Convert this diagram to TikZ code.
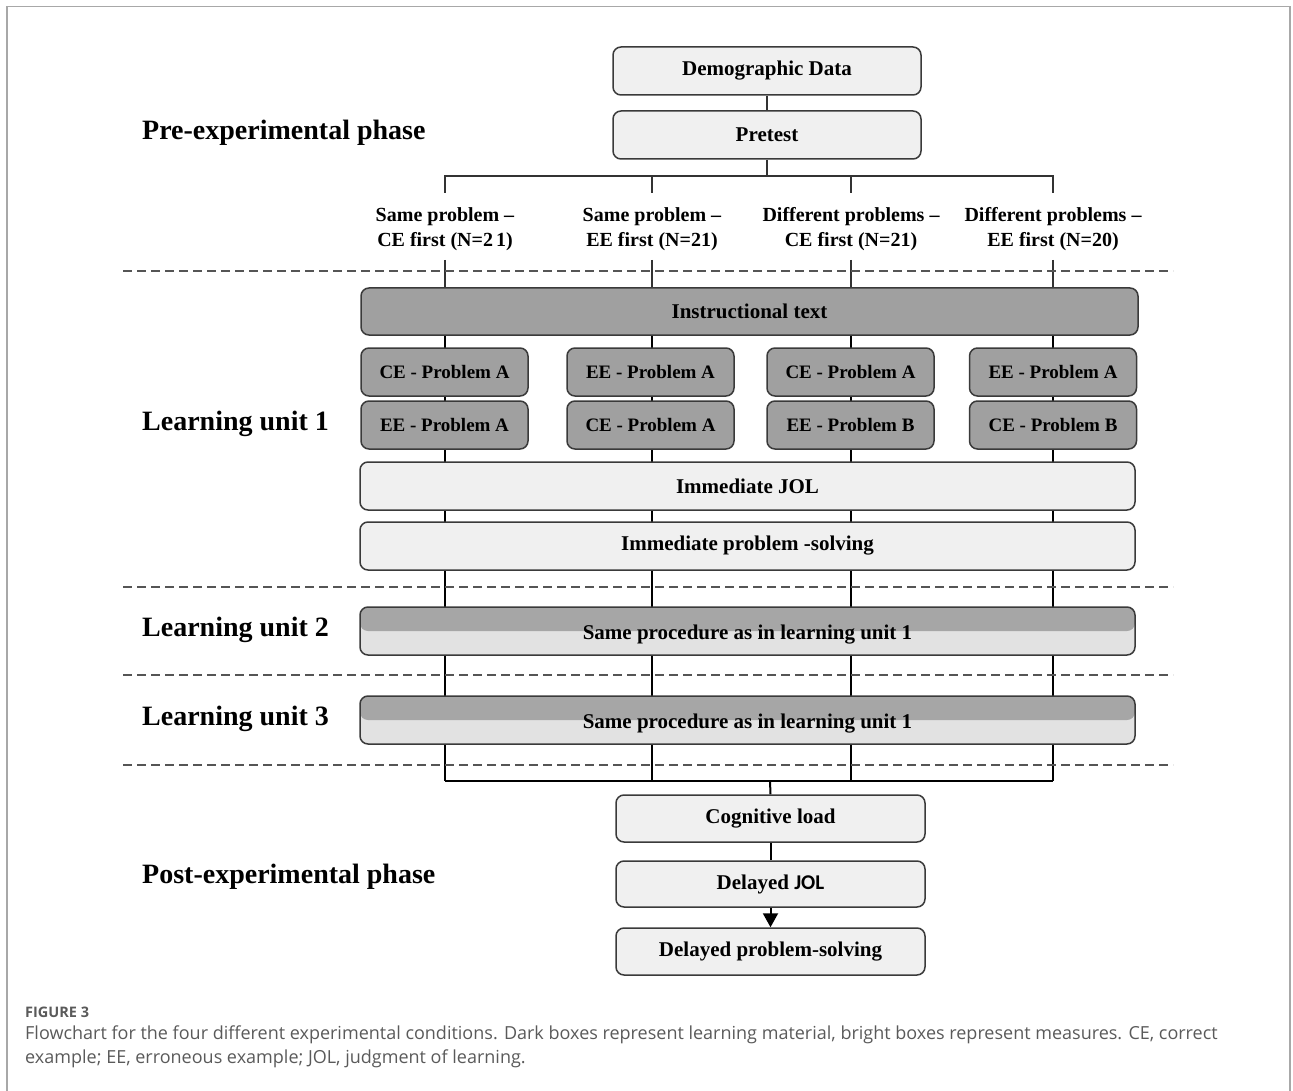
\documentclass[tikz,border=0pt]{standalone}
\usepackage{fontspec}
\setmainfont{Liberation Serif}
\newfontfamily\capfont{Open Sans}
\newfontfamily\jolfont{Carlito}
\usetikzlibrary{arrows.meta,backgrounds}
\definecolor{boxline}{HTML}{3A3A3A}
\definecolor{darkfill}{HTML}{A0A0A0}
\definecolor{lightfill}{HTML}{F0F0F0}
\definecolor{splitdark}{HTML}{A6A6A6}
\definecolor{splitlight}{HTML}{E2E2E2}
\definecolor{dashgray}{HTML}{555555}
\definecolor{capgray}{HTML}{5A5A5A}
\definecolor{framegray}{HTML}{A8A8A8}
\begin{document}
\begin{tikzpicture}[x=1pt,y=-1pt,
  box/.style={draw=boxline, line width=1.5pt, rounded corners=8pt,
    font=\fontsize{21}{25}\selectfont\bfseries, inner sep=0pt, align=center},
  lightbox/.style={box, fill=lightfill},
  darkbox/.style={box, fill=darkfill},
  smallbox/.style={darkbox, minimum width=167pt, minimum height=48pt, font=\fontsize{19}{23}\selectfont\bfseries},
  splitbox/.style={box, fill=splitlight,
    path picture={\fill[splitdark] (path picture bounding box.north west) rectangle (path picture bounding box.east);}},
  phase/.style={anchor=west, font=\fontsize{28}{32}\selectfont\bfseries, inner sep=0pt},
  cond/.style={font=\fontsize{20}{25}\selectfont\bfseries, align=center, inner sep=0pt},
  sep/.style={draw=dashgray, line width=1.3pt, dash pattern=on 9pt off 5pt},
  col/.style={line width=2pt, black},
  tick/.style={line width=1.3pt, draw=black!80},
  capt/.style={anchor=base west, inner sep=0pt, text=capgray, align=left}
]
\useasboundingbox (0,0) rectangle (1293,1091);
% outer frame
\draw[framegray, line width=1.5pt] (7,1091) -- (7,6.5) -- (1290,6.5) -- (1290,1091);

% top boxes
\node[lightbox, minimum width=308pt, minimum height=48pt] (demo) at (767,71) {Demographic Data};
\node[lightbox, minimum width=308pt, minimum height=48pt] (pretest) at (767,135) {Pretest};

% condition labels
\node[cond] (lab1) at (445,229) {Same problem --\\CE first (N=2\kern3pt1)};
\node[cond] (lab2) at (652,229) {Same problem --\\EE first (N=21)};
\node[cond] (lab3) at (851,229) {Different problems --\\CE first (N=21)};
\node[cond] (lab4) at (1053,229) {Different problems --\\EE first (N=20)};

\coordinate (fork) at (767,176);
\coordinate (t1) at (445,193);
\coordinate (t2) at (652,193);
\coordinate (t3) at (851,193);
\coordinate (t4) at (1053,193);
\draw[tick] (demo.south) -- (pretest.north);
\draw[tick] (pretest.south) -- (fork);
\draw[tick] (t1) |- (fork) -| (t4);
\draw[tick] (t2) -- (t2 |- fork);
\draw[tick] (t3) -- (t3 |- fork);

% dashed separators
\draw[sep] (123,271) -- (1173,271);
\draw[sep] (123,587) -- (1173,587);
\draw[sep] (123,675) -- (1173,675);
\draw[sep] (123,765) -- (1173,765);

% phase labels
\node[phase] (ph0) at (142,133) {Pre-experimental phase};
\node[phase] (ph1) at (142,424) {Learning unit 1};
\node[phase] (ph2) at (142,630) {Learning unit 2};
\node[phase] (ph3) at (142,719) {Learning unit 3};
\node[phase] (ph4) at (142,877) {Post-experimental phase};

% learning unit 1
\node[darkbox, minimum width=777pt, minimum height=47pt] (instr) at (749.5,311.5) {Instructional text};
\node[smallbox] (a1) at (444.5,372) {CE - Problem A};
\node[smallbox] (a2) at (650.5,372) {EE - Problem A};
\node[smallbox] (a3) at (850.5,372) {CE - Problem A};
\node[smallbox] (a4) at (1053,372) {EE - Problem A};
\node[smallbox] (b1) at (444.5,425) {EE - Problem A};
\node[smallbox] (b2) at (650.5,425) {CE - Problem A};
\node[smallbox] (b3) at (850.5,425) {EE - Problem B};
\node[smallbox] (b4) at (1053,425) {CE - Problem B};
\node[lightbox, minimum width=775pt, minimum height=48pt] (ijol) at (747.5,486) {Immediate JOL};
\node[lightbox, minimum width=775pt, minimum height=48pt] (ips) at (747.5,546) {Immediate problem -solving};

% learning units 2 and 3
\node[splitbox, minimum width=775pt, minimum height=48pt] (lu2) at (747.5,631) {\raisebox{-8pt}[0pt][0pt]{Same procedure as in learning unit 1}};
\node[splitbox, minimum width=775pt, minimum height=48pt] (lu3) at (747.5,720) {\raisebox{-8pt}[0pt][0pt]{Same procedure as in learning unit 1}};

% column lines behind the boxes
\coordinate (c1) at (445,260); \coordinate (d1) at (445,781);
\coordinate (c2) at (652,260); \coordinate (d2) at (652,781);
\coordinate (c3) at (851,260); \coordinate (d3) at (851,781);
\coordinate (c4) at (1053,260); \coordinate (d4) at (1053,781);
\coordinate (join) at (770,781);
\begin{scope}[on background layer]
\draw[tick] (c1) -- (c1 |- instr.north);
\draw[tick] (c2) -- (c2 |- instr.north);
\draw[tick] (c3) -- (c3 |- instr.north);
\draw[tick] (c4) -- (c4 |- instr.north);
\draw[col] (c1 |- instr.north) -- (d1);
\draw[col] (c2 |- instr.north) -- (d2);
\draw[col] (c3 |- instr.north) -- (d3);
\draw[col] (c4 |- instr.north) -- (d4);
\draw[col] (d1) -- (d4);
\end{scope}

% post-experimental
\node[lightbox, minimum width=309pt, minimum height=47pt] (cog) at (770.5,818.5) {Cognitive load};
\node[lightbox, minimum width=309pt, minimum height=46pt] (djol) at (770.5,884) {Delayed {\jolfont\bfseries JOL}};
\node[lightbox, minimum width=309pt, minimum height=47pt] (dps) at (770.5,951.5) {Delayed problem-solving};
\draw[col] (join) -- (cog.north);
\draw[col] (cog.south) -- (djol.north);
\draw[col, -{Triangle[length=14pt,width=15pt]}] (djol.south) -- (dps.north);

% caption
\node[capt, font=\capfont\fontsize{14.5}{16}\selectfont\bfseries] (fig) at (25,1017.5) {FIGURE 3};
\node[capt, font=\capfont\fontsize{18}{24}\selectfont] (cap) at (25,1063) {Flowchart for the four different experimental conditions. Dark boxes represent learning material, bright boxes represent measures. CE, correct\\example; EE, erroneous example; JOL, judgment of learning.};
\end{tikzpicture}
\end{document}
